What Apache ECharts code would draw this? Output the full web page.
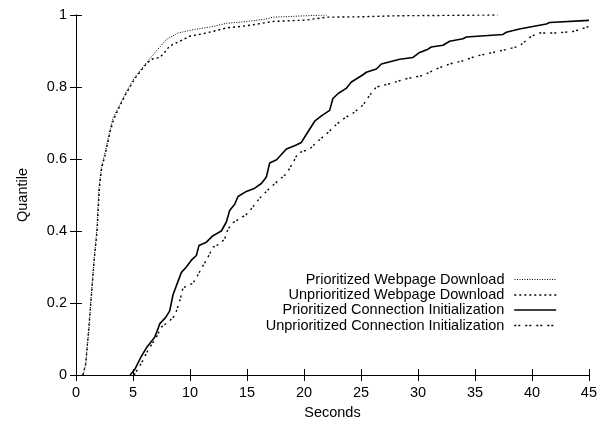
<!DOCTYPE html>
<html>
<head>
<meta charset="utf-8">
<script src="https://cdn.jsdelivr.net/npm/echarts@6/dist/echarts.min.js"></script>
<style>
html,body{margin:0;padding:0;background:#fff;}
#chart{width:600px;height:425px;}
</style>
</head>
<body>
<div id="chart"></div>
<script>
var seriesNames = [
  'Prioritized Webpage Download',
  'Unprioritized Webpage Download',
  'Prioritized Connection Initialization',
  'Unprioritized Connection Initialization'
];
var xTicks = [0, 5, 10, 15, 20, 25, 30, 35, 40, 45];
var yTicks = [0, 0.2, 0.4, 0.6, 0.8, 1];

var pwX = [0.62,0.85,1.14,1.29,1.58,1.82,2.02,2.23,2.52,2.96,3.25,3.83,4.42,5.15,6.18,7.05,7.93,8.95,10.26,12.02,13.19,14.95,16.5,17.3,19.6,22];
var pwQ = [0,0.03,0.13,0.2,0.32,0.4,0.52,0.578,0.614,0.678,0.714,0.75,0.787,0.827,0.868,0.9,0.932,0.95,0.959,0.968,0.977,0.982,0.988,0.994,0.997,1];

var uwX = [0.6,0.85,1.12,1.3,1.6,1.85,2.05,2.25,2.55,2.98,3.3,3.85,4.45,5.2,6.03,6.61,7.34,7.63,8.22,9.1,9.97,11.44,13.19,14.95,17.3,20.2,22,24.9,28.4,37];
var uwQ = [0,0.03,0.13,0.2,0.32,0.4,0.52,0.575,0.61,0.675,0.71,0.748,0.785,0.825,0.859,0.877,0.882,0.891,0.914,0.927,0.941,0.95,0.964,0.97,0.982,0.986,0.994,0.995,0.998,1];

var pcX = [4.75,4.86,5.15,5.7,6.23,6.9,7.19,7.34,7.87,8.22,8.51,8.95,9.25,9.68,10.12,10.56,10.79,11.44,12.02,12.75,13.19,13.48,13.92,14.21,14.95,15.68,16.26,16.7,16.99,17.6,18.46,19.18,19.77,20.2,20.94,21.53,22.25,22.54,23.0,23.7,24.16,25.18,25.47,26.35,26.79,28.4,29.56,30.15,30.88,31.17,32.2,32.78,33.95,34.25,37.46,37.75,38.9,41.26,41.55,45];
var pcQ = [0,0.005,0.015,0.05,0.078,0.105,0.128,0.142,0.16,0.178,0.223,0.26,0.285,0.30,0.319,0.332,0.36,0.369,0.387,0.40,0.425,0.457,0.474,0.496,0.51,0.519,0.532,0.55,0.589,0.598,0.628,0.637,0.646,0.668,0.705,0.72,0.735,0.768,0.782,0.796,0.814,0.834,0.841,0.85,0.864,0.877,0.882,0.896,0.905,0.911,0.916,0.927,0.934,0.939,0.946,0.952,0.961,0.975,0.979,0.985];

var ucX = [5.1,5.74,6.32,7.05,7.49,8.22,8.66,9.1,9.39,10.26,10.7,11.0,11.44,12.02,12.6,13.04,13.33,13.77,14.51,14.95,15.39,16.11,16.99,17.87,18.46,19.04,19.47,20.5,21.23,21.96,22.84,23.57,24.3,25.18,25.76,26.35,27.5,28.98,30.44,31.6,32.78,33.95,35.12,36.58,37.9,38.9,39.95,40.68,42.1,43.6,45];
var ucQ = [0,0.033,0.069,0.105,0.133,0.151,0.164,0.205,0.242,0.255,0.278,0.296,0.319,0.355,0.364,0.378,0.405,0.423,0.437,0.446,0.462,0.491,0.519,0.543,0.559,0.59,0.616,0.628,0.65,0.669,0.696,0.714,0.727,0.75,0.777,0.80,0.809,0.823,0.832,0.85,0.864,0.873,0.886,0.896,0.905,0.914,0.941,0.95,0.95,0.954,0.968];

function zip(xs, ys) { return xs.map(function (x, i) { return [x, ys[i]]; }); }

var FONT = '"Liberation Sans", Arial, Helvetica, sans-serif';
var FS = 14.5;

var lineStyles = [
  { color: '#000', width: 1, type: [1, 1.5] },
  { color: '#000', width: 1.4, type: [2, 3] },
  { color: '#000', width: 1.6, type: 'solid' },
  { color: '#000', width: 1.4, type: [2, 2, 2, 5] }
];
var datasets = [zip(pwX, pwQ), zip(uwX, uwQ), zip(pcX, pcQ), zip(ucX, ucQ)];

var legendTops = [272, 287.5, 302.5, 318];
var legends = seriesNames.map(function (n, i) {
  return {
    data: [n],
    right: 43,
    top: legendTops[i],
    padding: 0,
    orient: 'horizontal',
    align: 'right',
    itemWidth: 42,
    itemHeight: 14,
    selectedMode: false,
    itemStyle: { opacity: 0, borderWidth: 0 },
    lineStyle: lineStyles[i],
    textStyle: { fontFamily: FONT, fontSize: FS, color: '#000', padding: [0, 5, 0, 0] }
  };
});

var tickStyle = { show: true, inside: true, length: 6, lineStyle: { color: '#000', width: 1 } };

var option = {
  animation: false,
  backgroundColor: '#fff',
  textStyle: { fontFamily: FONT },
  grid: { left: 76, right: 11, top: 15, bottom: 43, containLabel: false },
  legend: legends,
  xAxis: [{
    type: 'value', min: 0, max: 45, interval: 5,
    name: 'Seconds', nameLocation: 'middle', nameGap: 30,
    nameTextStyle: { fontFamily: FONT, fontSize: FS, color: '#000' },
    axisLine: { show: true, lineStyle: { color: '#000', width: 1 } },
    axisTick: tickStyle,
    axisLabel: { fontFamily: FONT, fontSize: FS, color: '#000', margin: 10,
      formatter: function (v) { return xTicks.indexOf(v) >= 0 ? String(v) : ''; } },
    splitLine: { show: false }
  }, {
    type: 'value', min: 0, max: 45, interval: 5, position: 'top',
    axisLine: { show: true, lineStyle: { color: '#000', width: 1 } },
    axisTick: tickStyle, axisLabel: { show: false }, splitLine: { show: false }
  }],
  yAxis: [{
    type: 'value', min: 0, max: 1, interval: 0.2,
    name: 'Quantile', nameLocation: 'middle', nameGap: 46, nameRotate: 90,
    nameTextStyle: { fontFamily: FONT, fontSize: FS, color: '#000' },
    axisLine: { show: true, lineStyle: { color: '#000', width: 1 } },
    axisTick: tickStyle,
    axisLabel: { fontFamily: FONT, fontSize: FS, color: '#000', margin: 9,
      formatter: function (v) {
        var r = Math.round(v * 10) / 10;
        return yTicks.indexOf(r) >= 0 ? String(r) : '';
      } },
    splitLine: { show: false }
  }, {
    type: 'value', min: 0, max: 1, interval: 0.2, position: 'right',
    axisLine: { show: true, lineStyle: { color: '#000', width: 1 } },
    axisTick: tickStyle, axisLabel: { show: false }, splitLine: { show: false }
  }],
  series: seriesNames.map(function (n, i) {
    return {
      name: n, type: 'line', data: datasets[i],
      xAxisIndex: 0, yAxisIndex: 0,
      showSymbol: false, symbol: 'none',
      lineStyle: lineStyles[i], itemStyle: { color: '#000' },
      clip: true
    };
  })
};

var chart = echarts.init(document.getElementById('chart'), null, { renderer: 'canvas' });
chart.setOption(option);
</script>
</body>
</html>
